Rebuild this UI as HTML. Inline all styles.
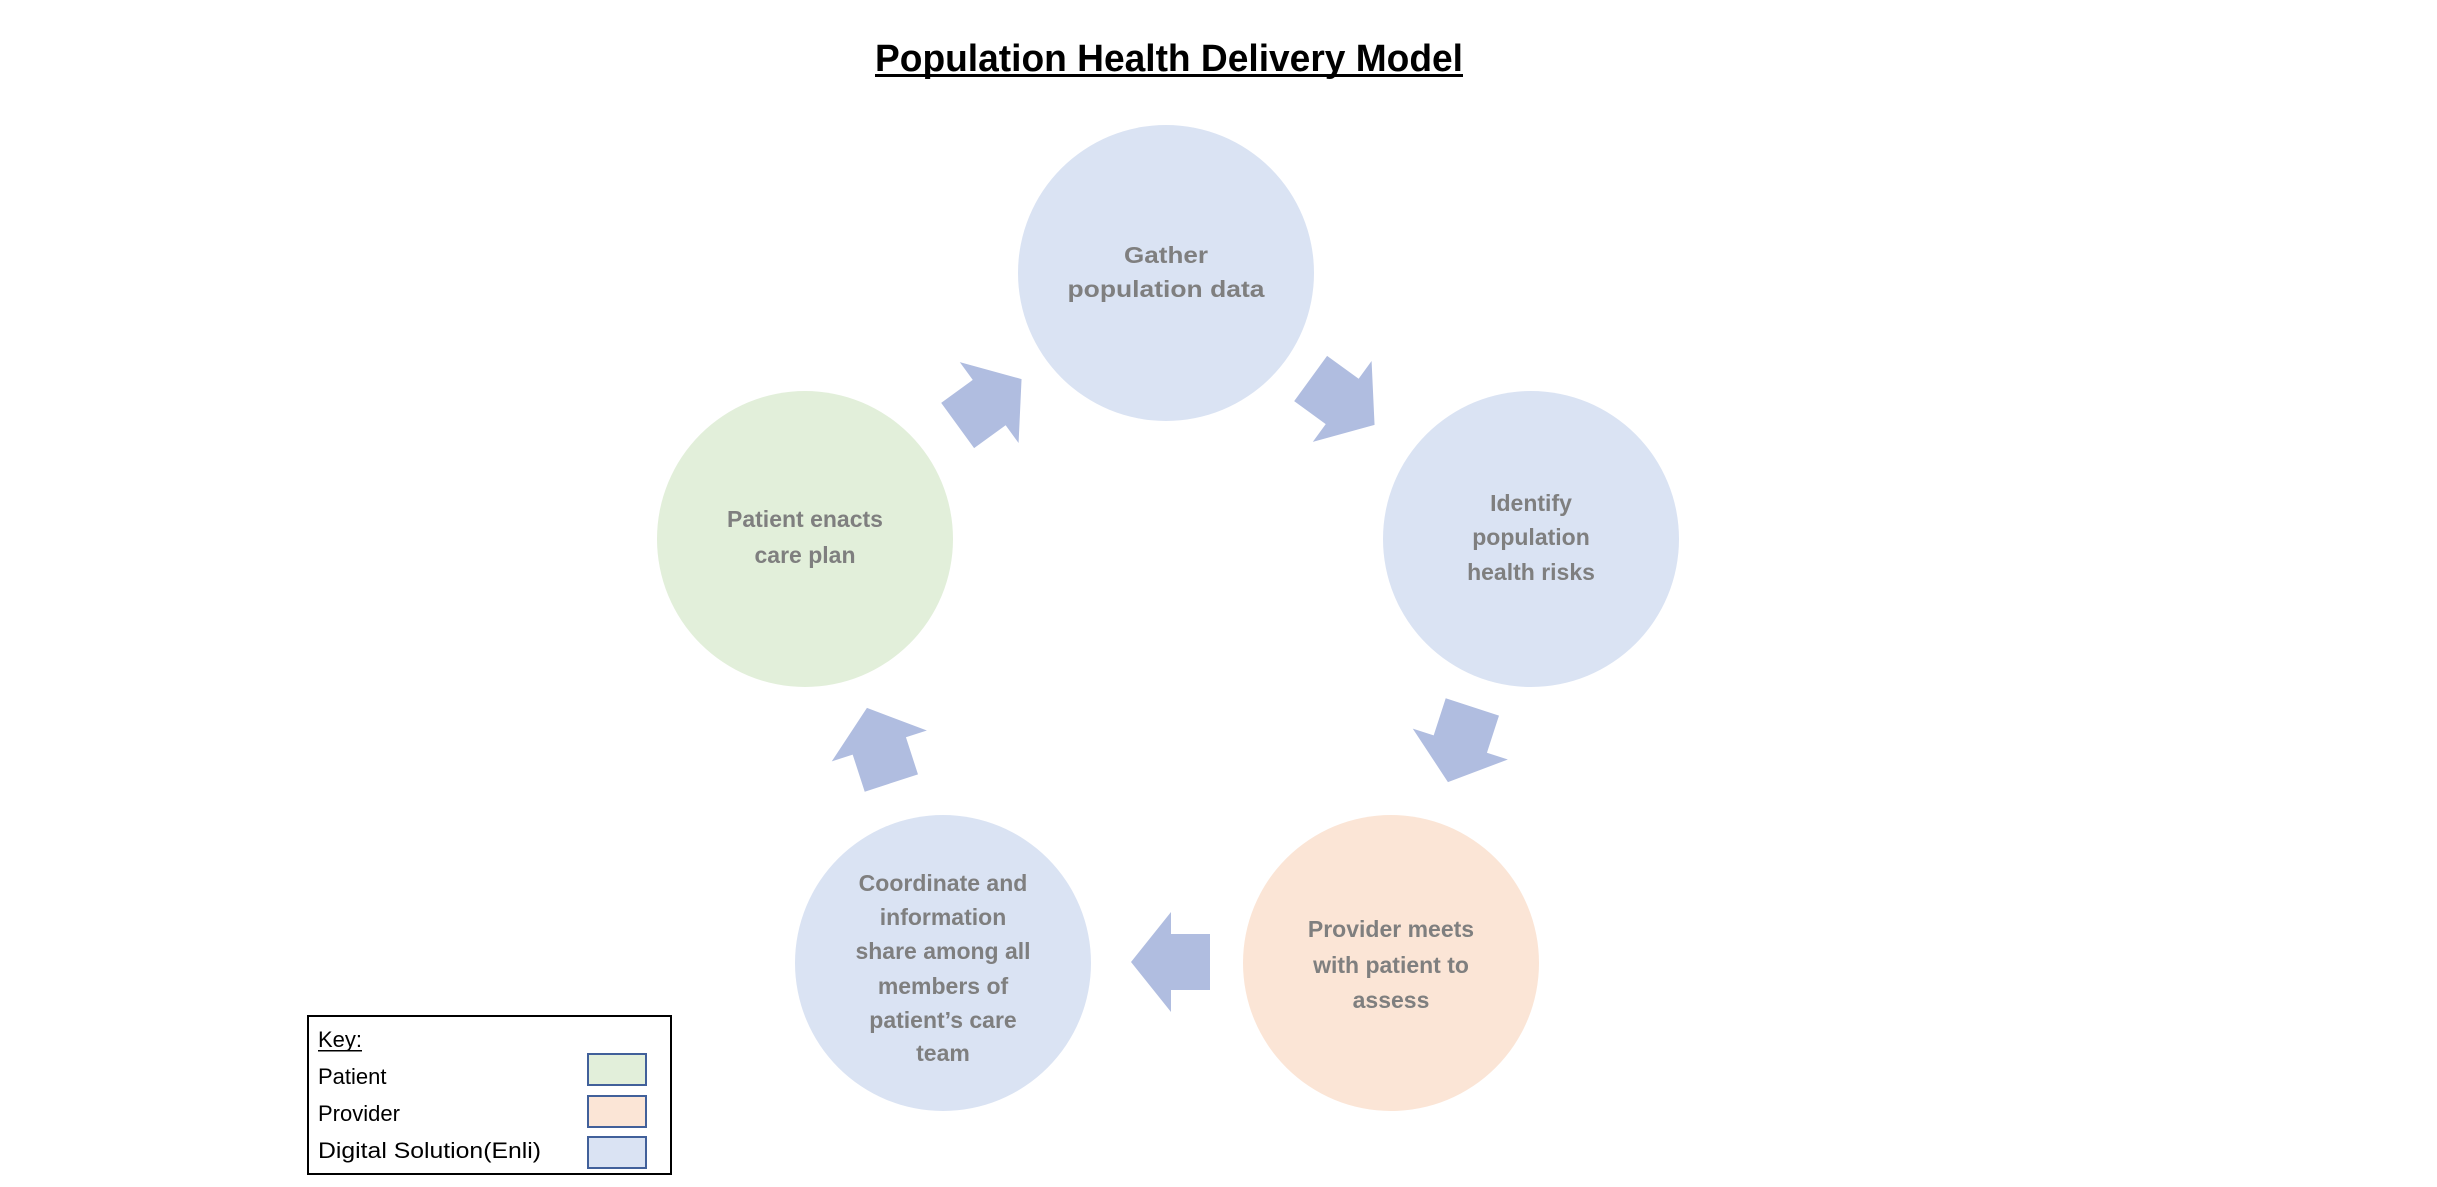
<!DOCTYPE html>
<html><head><meta charset="utf-8"><style>
html,body{margin:0;padding:0;background:#fff;}
svg{display:block;}
text{font-family:"Liberation Sans",sans-serif;}
.c{font-weight:bold;fill:#7f7f7f;font-size:23px;text-anchor:middle;dominant-baseline:central;}
.k{font-size:22px;fill:#000;}
</style></head><body>
<svg width="2437" height="1187" viewBox="0 0 2437 1187" xmlns="http://www.w3.org/2000/svg">
<defs>
<polygon id="ar" points="-40,-28 -1,-28 -1,-50 39,0 -1,50 -1,28 -40,28" fill="#b0bde0"/>
</defs>
<text x="1169" y="71" font-size="38" font-weight="bold" text-anchor="middle" textLength="588" lengthAdjust="spacingAndGlyphs">Population Health Delivery Model</text>
<rect x="875" y="74" width="588" height="3" fill="#000"/>

<circle cx="1166" cy="273" r="148" fill="#dae3f3"/>
<circle cx="1531" cy="539" r="148" fill="#dae3f3"/>
<circle cx="1391" cy="963" r="148" fill="#fbe5d6"/>
<circle cx="943" cy="963" r="148" fill="#dae3f3"/>
<circle cx="805" cy="539" r="148" fill="#e2efda"/>

<text class="c" x="1166" y="255" textLength="84" lengthAdjust="spacingAndGlyphs">Gather</text>
<text class="c" x="1166" y="289" textLength="197" lengthAdjust="spacingAndGlyphs">population data</text>

<text class="c" x="1531" y="503">Identify</text>
<text class="c" x="1531" y="537">population</text>
<text class="c" x="1531" y="572">health risks</text>

<text class="c" x="1391" y="929">Provider meets</text>
<text class="c" x="1391" y="965">with patient to</text>
<text class="c" x="1391" y="1000">assess</text>

<text class="c" x="943" y="883">Coordinate and</text>
<text class="c" x="943" y="917">information</text>
<text class="c" x="943" y="951">share among all</text>
<text class="c" x="943" y="986">members of</text>
<text class="c" x="943" y="1020">patient’s care</text>
<text class="c" x="943" y="1053">team</text>

<text class="c" x="805" y="519">Patient enacts</text>
<text class="c" x="805" y="555">care plan</text>

<use href="#ar" transform="translate(1343,402) rotate(36)"/>
<use href="#ar" transform="translate(1460,745) rotate(108)"/>
<use href="#ar" transform="translate(1170,962) rotate(180)"/>
<use href="#ar" transform="translate(879,745) rotate(252)"/>
<use href="#ar" transform="translate(990,402) rotate(-36)"/>

<rect x="308" y="1016" width="363" height="158" fill="#fff" stroke="#000" stroke-width="2"/>
<text class="k" x="318" y="1047">Key:</text>
<rect x="318" y="1050" width="44" height="1.5" fill="#000"/>
<text class="k" x="318" y="1084">Patient</text>
<text class="k" x="318" y="1121">Provider</text>
<text class="k" x="318" y="1158" textLength="223" lengthAdjust="spacingAndGlyphs">Digital Solution(Enli)</text>
<rect x="588" y="1054" width="58" height="31" fill="#e2efda" stroke="#41609a" stroke-width="2"/>
<rect x="588" y="1096" width="58" height="31" fill="#fbe5d6" stroke="#41609a" stroke-width="2"/>
<rect x="588" y="1137" width="58" height="31" fill="#dae3f3" stroke="#41609a" stroke-width="2"/>
</svg>
</body></html>
